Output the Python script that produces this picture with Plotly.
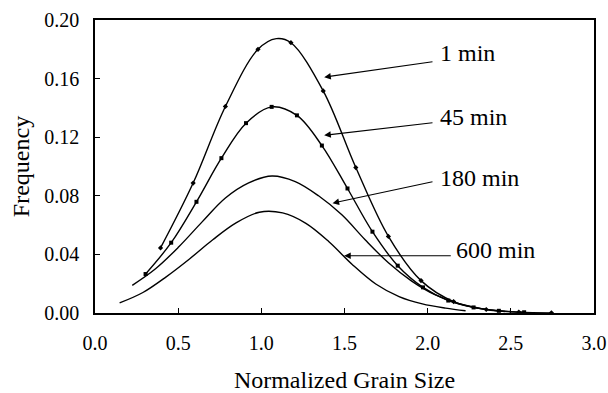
import plotly.graph_objects as go

# ---- data ----
# sampled points (drawn as markers) for the 1 min and 45 min curves
x_1min = [0.394, 0.59, 0.784, 0.98, 1.178, 1.372, 1.568, 1.764, 1.96, 2.156, 2.352, 2.548, 2.744]
y_1min = [0.0444, 0.0887, 0.141, 0.180, 0.1845, 0.1516, 0.0993, 0.0523, 0.0221, 0.0078, 0.0024, 0.0006, 0.0001]
# 1 min curve peak (line only)
peak_1min_x = 1.09
peak_1min_y = 0.1873

x_45min = [0.304, 0.458, 0.61, 0.76, 0.908, 1.062, 1.214, 1.364, 1.518, 1.668, 1.82, 1.972, 2.124, 2.276, 2.428, 2.58]
y_45min = [0.0266, 0.048, 0.0759, 0.1057, 0.1296, 0.1407, 0.1349, 0.1143, 0.085, 0.0555, 0.0323, 0.0175, 0.0085, 0.0038, 0.0015, 0.0005]

x_180min = [0.224, 0.364, 0.504, 0.644, 0.784, 0.924, 1.064, 1.204, 1.344, 1.484, 1.624, 1.764, 1.904, 2.044, 2.184, 2.324, 2.464]
y_180min = [0.0189, 0.0302, 0.0452, 0.0622, 0.0785, 0.0888, 0.0935, 0.0897, 0.0800, 0.0670, 0.0500, 0.0343, 0.0218, 0.0125, 0.0065, 0.0030, 0.0010]

x_600min = [0.148, 0.288, 0.428, 0.568, 0.708, 0.848, 0.988, 1.128, 1.268, 1.408, 1.548, 1.688, 1.828, 1.968, 2.108, 2.228]
y_600min = [0.0069, 0.0140, 0.0247, 0.0369, 0.0500, 0.0615, 0.0688, 0.0683, 0.0612, 0.0485, 0.0330, 0.0198, 0.0112, 0.0062, 0.0033, 0.0015]

labels = ["1 min", "45 min", "180 min", "600 min"]
# arrow tips (on curves) and tails, text anchor positions (data units)
arrow_tip_x = [1.378, 1.378, 1.428, 1.498]
arrow_tip_y = [0.161, 0.1213, 0.075, 0.0391]
arrow_tail_x = [2.038, 2.038, 2.038, 2.148]
arrow_tail_y = [0.1716, 0.130, 0.0898, 0.0391]
text_x = [2.062, 2.062, 2.062, 2.158]
text_y = [0.1775, 0.1340, 0.0922, 0.0428]

x_ticks = [0.0, 0.5, 1.0, 1.5, 2.0, 2.5, 3.0]
y_ticks = [0.00, 0.04, 0.08, 0.12, 0.16, 0.20]

FONT = "Liberation Serif"

# line path for the 1 min curve: sampled points plus the read peak
line_1min = sorted(zip(x_1min + [peak_1min_x], y_1min + [peak_1min_y]))
lx_1min = [p[0] for p in line_1min]
ly_1min = [p[1] for p in line_1min]

fig = go.Figure()
LINE = dict(color="black", width=1.4, shape="spline", smoothing=1.0)
fig.add_trace(go.Scatter(x=lx_1min, y=ly_1min, mode="lines", line=LINE, showlegend=False, name="1 min"))
fig.add_trace(go.Scatter(x=x_1min, y=y_1min, mode="markers", showlegend=False, name="1 min",
                         marker=dict(symbol="diamond", size=4, color="black")))
fig.add_trace(go.Scatter(x=x_45min, y=y_45min, mode="lines+markers", line=LINE, showlegend=False, name="45 min",
                         marker=dict(symbol="square", size=4, color="black")))
fig.add_trace(go.Scatter(x=x_180min, y=y_180min, mode="lines", line=LINE, showlegend=False, name="180 min"))
fig.add_trace(go.Scatter(x=x_600min, y=y_600min, mode="lines", line=LINE, showlegend=False, name="600 min"))

for i, lab in enumerate(labels):
    fig.add_annotation(x=arrow_tip_x[i], y=arrow_tip_y[i], ax=arrow_tail_x[i], ay=arrow_tail_y[i],
                       xref="x", yref="y", axref="x", ayref="y", text="",
                       showarrow=True, arrowhead=2, arrowsize=1.2, arrowwidth=1.1,
                       arrowcolor="black")
    fig.add_annotation(x=text_x[i], y=text_y[i], xref="x", yref="y", text=lab,
                       showarrow=False, xanchor="left", yanchor="middle",
                       font=dict(family=FONT, size=24, color="black"))

fig.update_layout(
    width=608, height=393,
    margin=dict(l=95, r=14, t=20, b=80),
    paper_bgcolor="white", plot_bgcolor="white",
    font=dict(family=FONT, size=20, color="black"),
)
fig.update_xaxes(range=[0, 3], tickvals=x_ticks, ticktext=[f"{v:.1f}" for v in x_ticks],
                 ticks="inside", ticklen=5, tickwidth=1, tickcolor="black",
                 showline=True, linecolor="black", linewidth=1.5, mirror=True,
                 showgrid=False, zeroline=False, ticklabelstandoff=11, automargin=False,
                 tickfont=dict(family=FONT, size=20),
                 title=dict(text="Normalized Grain Size", font=dict(family=FONT, size=24), standoff=22))
fig.update_yaxes(range=[0, 0.2], tickvals=y_ticks, ticktext=[f"{v:.2f}" for v in y_ticks],
                 ticks="inside", ticklen=5, tickwidth=1, tickcolor="black",
                 showline=True, linecolor="black", linewidth=1.5, mirror=True,
                 showgrid=False, zeroline=False, ticklabelstandoff=10, automargin=False,
                 tickfont=dict(family=FONT, size=20),
                 title=dict(text="Frequency", font=dict(family=FONT, size=24), standoff=8))

fig.write_html("out.html")
